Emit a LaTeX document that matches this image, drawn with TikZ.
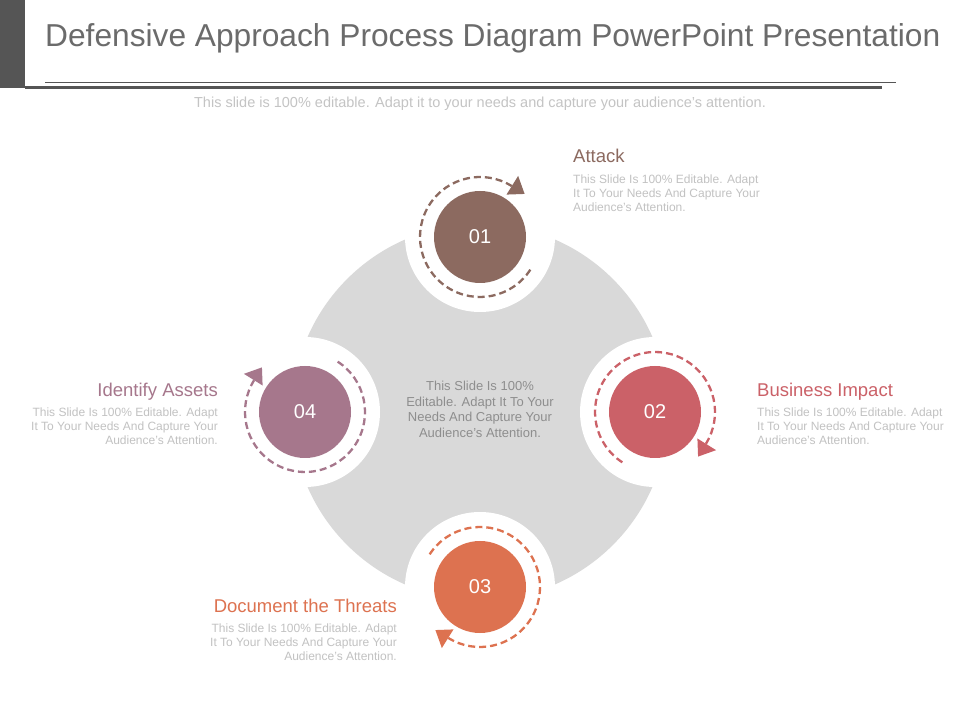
\documentclass[tikz,border=0pt]{standalone}
\usepackage{fontspec}
\setmainfont{Liberation Sans}
\usetikzlibrary{calc}
\definecolor{cA}{HTML}{8C6A60}
\definecolor{cB}{HTML}{CB6168}
\definecolor{cC}{HTML}{DD7250}
\definecolor{cD}{HTML}{A6778C}
\definecolor{disk}{HTML}{D9D9D9}
\definecolor{titlegray}{HTML}{6B6B6B}
\definecolor{subgray}{HTML}{C4C4C4}
\definecolor{bodygray}{HTML}{C2C2C2}
\definecolor{centergray}{HTML}{8E8E8E}
\definecolor{bar}{HTML}{555555}
\begin{document}
\begin{tikzpicture}[x=1pt,y=1pt,
  numcircle/.style={circle, minimum size=92pt, inner sep=0pt, text=white, font=\fontsize{20}{20}\selectfont},
  ring/.style={fill=white},
  dasharc/.style={line width=2.3pt, dash pattern=on 7pt off 4pt},
  headL/.style={font=\fontsize{18.5}{18.5}\selectfont, anchor=base west, inner sep=0pt},
  headR/.style={font=\fontsize{18.5}{18.5}\selectfont, anchor=base east, inner sep=0pt},
  bodyL/.style={font=\fontsize{12}{14}\selectfont, text=bodygray, anchor=base west, inner sep=0pt},
  bodyR/.style={font=\fontsize{12}{14}\selectfont, text=bodygray, anchor=base east, inner sep=0pt},
  centertxt/.style={font=\fontsize{13}{15}\selectfont, text=centergray, anchor=base, inner sep=0pt}
]
\useasboundingbox (0,0) rectangle (960,720);
\fill[white] (0,0) rectangle (960,720);
% header
\fill[bar] (0,720) rectangle (25,632);
\fill[bar] (25,634) rectangle (882,631);
\draw[bar, line width=1pt] (45,637) -- (896,637);
\node[anchor=base west, inner sep=0pt, text=titlegray, font=\fontsize{31.7}{31.7}\selectfont] (title) at (45,673) {Defensive Approach Process Diagram PowerPoint Presentation};
\node[anchor=base, inner sep=0pt, text=subgray, font=\fontsize{14.5}{14.5}\selectfont] (sub) at (480,612) {This slide is 100\% editable. Adapt it to your needs and capture your audience's attention.};
% central disk
\fill[disk] (480,308) circle (188);
\fill[ring] (480,483) circle (75);
\fill[ring] (655,308) circle (75);
\fill[ring] (480,133) circle (75);
\fill[ring] (305,308) circle (75);
% numbered circles
\node[numcircle, fill=cA] (n1) at (480,483) {01};
\node[numcircle, fill=cB] (n2) at (655,308) {02};
\node[numcircle, fill=cC] (n3) at (480,133) {03};
\node[numcircle, fill=cD] (n4) at (305,308) {04};
\foreach \n/\col/\r in {n1/cA/0, n2/cB/-90, n3/cC/-180, n4/cD/-270} {
  \draw[dasharc, \col] ($(\n.center)+(327+\r:60pt)$) arc[start angle=327+\r, end angle=58+\r, radius=60pt];
  \fill[\col] ($(\n.center)+(58+\r:50pt)$) -- ($(\n.center)+(58+\r:72pt)$) -- ($(\n.center)+(44+\r:62pt)$) -- cycle;
}
% centre text
\node[centertxt] (m1) at (480,329.3) {This Slide Is 100\%};
\node[centertxt] (m2) at (480,313.7) {Editable. Adapt It To Your};
\node[centertxt] (m3) at (480,298) {Needs And Capture Your};
\node[centertxt] (m4) at (480,282.5) {Audience's Attention.};
% Attack
\node[headL, text=cA] (h1) at (573,557) {Attack};
\node[bodyL] (b1a) at (573,536) {This Slide Is 100\% Editable. Adapt};
\node[bodyL] (b1b) at (573,522) {It To Your Needs And Capture Your};
\node[bodyL] (b1c) at (573,508) {Audience's Attention.};
% Business Impact
\node[headL, text=cB] (h2) at (757,323) {Business Impact};
\node[bodyL] (b2a) at (757,303) {This Slide Is 100\% Editable. Adapt};
\node[bodyL] (b2b) at (757,289) {It To Your Needs And Capture Your};
\node[bodyL] (b2c) at (757,275) {Audience's Attention.};
% Identify Assets
\node[headR, text=cD] (h4) at (218,323) {Identify Assets};
\node[bodyR] (b4a) at (218,303) {This Slide Is 100\% Editable. Adapt};
\node[bodyR] (b4b) at (218,289) {It To Your Needs And Capture Your};
\node[bodyR] (b4c) at (218,275) {Audience's Attention.};
% Document the Threats
\node[headR, text=cC] (h3) at (397,108) {Document the Threats};
\node[bodyR] (b3a) at (397,88) {This Slide Is 100\% Editable. Adapt};
\node[bodyR] (b3b) at (397,74) {It To Your Needs And Capture Your};
\node[bodyR] (b3c) at (397,60) {Audience's Attention.};
\end{tikzpicture}
\end{document}
